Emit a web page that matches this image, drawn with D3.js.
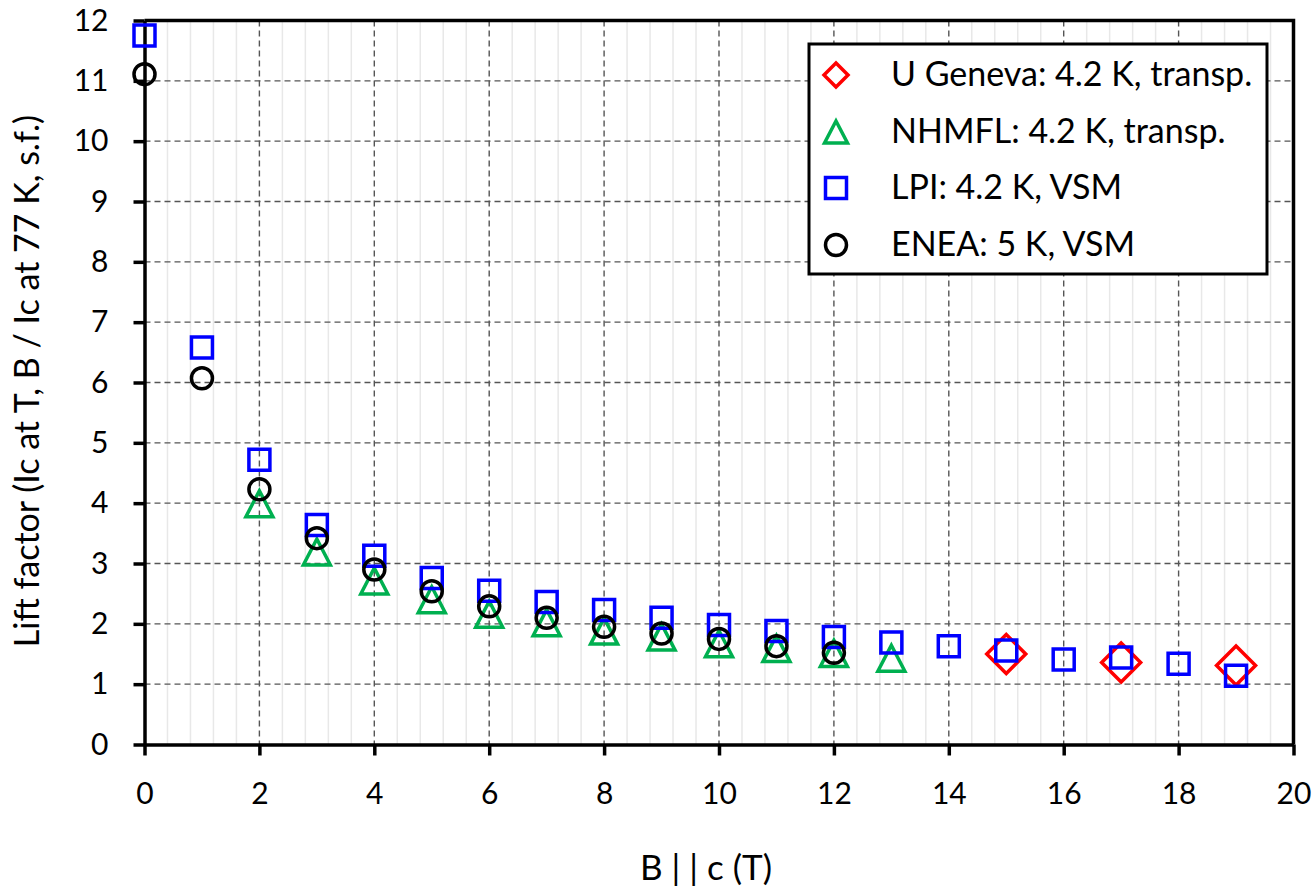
<!DOCTYPE html>
<html>
<head>
<meta charset="utf-8">
<script src="https://cdn.jsdelivr.net/npm/d3@7"></script>
<style>
  html, body { margin: 0; padding: 0; background: #fff; }
  svg { display: block; }
  text { font-family: Lato, "Open Sans", sans-serif; fill: #000; }
</style>
</head>
<body>
<svg id="chart" width="1314" height="888"></svg>
<script>
// Magnetic field B || c (T) for each data set
const genevaB = [15, 17, 19];
const genevaLift = [1.50, 1.36, 1.31];

const nhmflB = [2, 3, 4, 5, 6, 7, 8, 9, 10, 11, 12, 13];
const nhmflLift = [3.99, 3.19, 2.71, 2.40, 2.16, 2.02, 1.88, 1.78, 1.67, 1.59, 1.51, 1.43];

const lpiB = [0, 1, 2, 3, 4, 5, 6, 7, 8, 9, 10, 11, 12, 13, 14, 15, 16, 17, 18, 19];
const lpiLift = [11.75, 6.58, 4.72, 3.64, 3.13, 2.76, 2.55, 2.36, 2.23, 2.10, 1.98, 1.88, 1.78, 1.69, 1.63, 1.56, 1.41, 1.44, 1.34, 1.14];

const eneaB = [0, 1, 2, 3, 4, 5, 6, 7, 8, 9, 10, 11, 12];
const eneaLift = [11.11, 6.07, 4.23, 3.42, 2.90, 2.54, 2.29, 2.10, 1.95, 1.84, 1.75, 1.63, 1.52];

const seriesNames = ["U Geneva: 4.2 K, transp.", "NHMFL: 4.2 K, transp.", "LPI: 4.2 K, VSM", "ENEA: 5 K, VSM"];
const xTicks = [0, 2, 4, 6, 8, 10, 12, 14, 16, 18, 20];
const yTicks = [0, 1, 2, 3, 4, 5, 6, 7, 8, 9, 10, 11, 12];
const xTitle = "B | | c (T)";
const yTitle = "Lift factor (Ic at T, B / Ic at 77 K, s.f.)";

const svg = d3.select("#chart");
const plotLeft = 144.5, plotRight = 1293.5, plotTop = 20.5, plotBottom = 744.5;

const x = d3.scaleLinear().domain([0, 20]).range([plotLeft, plotRight]);
const y = d3.scaleLinear().domain([0, 12]).range([plotBottom, plotTop]);

// Minor vertical gridlines every 0.4 T
const minor = d3.range(0, 20.0001, 0.4).filter(v => Math.abs(v / 2 - Math.round(v / 2)) > 1e-6);
svg.append("g")
  .selectAll("line").data(minor).join("line")
  .attr("x1", d => x(d)).attr("x2", d => x(d))
  .attr("y1", plotTop).attr("y2", plotBottom)
  .attr("stroke", "#e8e8e8").attr("stroke-width", 1.5);

// Major dashed gridlines
const grid = svg.append("g").attr("stroke", "#555").attr("stroke-width", 1.4).attr("stroke-dasharray", "6,4");
grid.selectAll(".gx").data(xTicks.slice(1, -1)).join("line").attr("class", "gx")
  .attr("x1", d => x(d)).attr("x2", d => x(d)).attr("y1", plotTop).attr("y2", plotBottom);
grid.selectAll(".gy").data(yTicks.slice(1, -1)).join("line").attr("class", "gy")
  .attr("x1", plotLeft).attr("x2", plotRight).attr("y1", d => y(d)).attr("y2", d => y(d));

// Axes
const xAxis = svg.append("g").attr("transform", `translate(0,${plotBottom})`)
  .call(d3.axisBottom(x).tickValues(xTicks).tickSize(11).tickPadding(27).tickSizeOuter(0));
const yAxis = svg.append("g").attr("transform", `translate(${plotLeft},0)`)
  .call(d3.axisLeft(y).tickValues(yTicks).tickSize(11).tickPadding(25).tickSizeOuter(0));
[xAxis, yAxis].forEach(a => {
  a.select(".domain").attr("stroke", "#000").attr("stroke-width", 3.5);
  a.selectAll(".tick line").attr("stroke", "#000").attr("stroke-width", 3.5);
  a.selectAll(".tick text").attr("font-family", "Lato, sans-serif").attr("font-size", 30).attr("fill", "#000");
});

// Plot frame (top and right)
svg.append("path")
  .attr("d", `M${plotLeft},${plotTop}H${plotRight}V${plotBottom}`)
  .attr("fill", "none").attr("stroke", "#000").attr("stroke-width", 3.5);

// Marker shapes
function diamondPath(s) { const h = s / 2; return `M0,${-h}L${h},0L0,${h}L${-h},0Z`; }
function trianglePath(w, h) { return `M0,${-h / 2}L${w / 2},${h / 2}L${-w / 2},${h / 2}Z`; }
function squarePath(s) { const h = s / 2; return `M${-h},${-h}H${h}V${h}H${-h}Z`; }

const series = [
  { bx: genevaB, ly: genevaLift, color: "#ff0000", plot: diamondPath(39), key: diamondPath(24) },
  { bx: nhmflB, ly: nhmflLift, color: "#00b050", plot: trianglePath(27, 26), key: trianglePath(23, 22) },
  { bx: lpiB, ly: lpiLift, color: "#0000ff", plot: squarePath(21), key: squarePath(21) },
  { bx: eneaB, ly: eneaLift, color: "#000000", circle: 10.5 }
];

series.forEach(s => {
  const pts = s.bx.map((b, i) => [b, s.ly[i]]);
  const g = svg.append("g").attr("fill", "none").attr("stroke", s.color).attr("stroke-width", 3.5);
  if (s.circle) {
    g.selectAll("circle").data(pts).join("circle")
      .attr("cx", d => x(d[0])).attr("cy", d => y(d[1])).attr("r", s.circle);
  } else {
    g.selectAll("path").data(pts).join("path")
      .attr("d", s.plot)
      .attr("transform", d => `translate(${x(d[0])},${y(d[1])})`);
  }
});

// Legend
const legend = svg.append("g");
legend.append("rect")
  .attr("x", 809).attr("y", 44).attr("width", 458).attr("height", 230)
  .attr("fill", "#fff").attr("stroke", "#000").attr("stroke-width", 3);
const rowY = [75, 132, 188, 245];
series.forEach((s, i) => {
  const gy = rowY[i];
  const m = legend.append("g").attr("fill", "none").attr("stroke", s.color).attr("stroke-width", 3.5)
    .attr("transform", `translate(836,${gy})`);
  if (s.circle) m.append("circle").attr("r", 10.5);
  else m.append("path").attr("d", s.key);
  legend.append("text").attr("x", 891).attr("y", gy + 11)
    .attr("font-size", 34).text(seriesNames[i]);
});

// Axis titles
svg.append("text")
  .attr("x", 706).attr("y", 880).attr("text-anchor", "middle")
  .attr("font-size", 35).text(xTitle);
svg.append("text")
  .attr("transform", "translate(39,381) rotate(-90)")
  .attr("text-anchor", "middle").attr("font-size", 34).text(yTitle);
</script>
</body>
</html>
